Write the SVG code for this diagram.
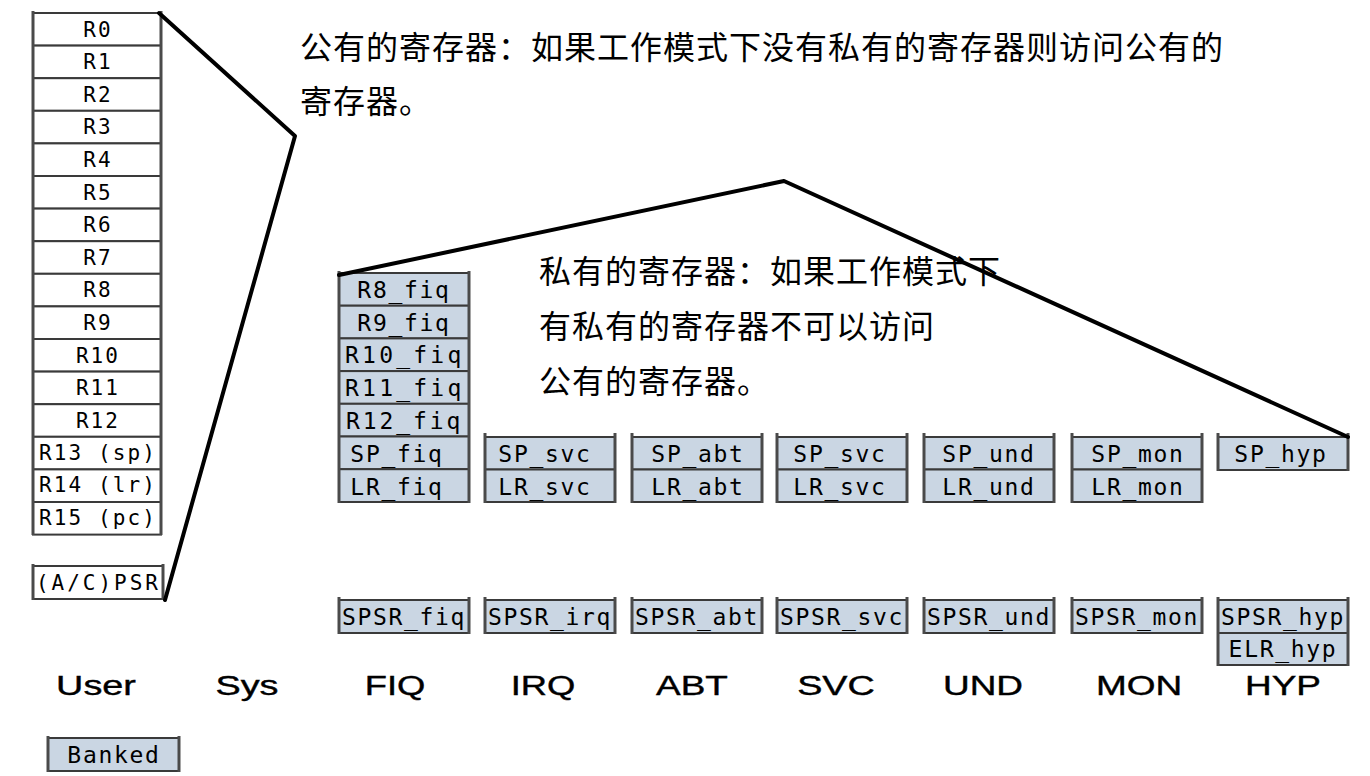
<svg xmlns="http://www.w3.org/2000/svg" width="1370" height="776" viewBox="0 0 1370 776">
<style>
.w{fill:#ffffff;stroke:#3a3a3a;stroke-width:2}
.b{fill:#cad6e3;stroke:#3a3a3a;stroke-width:2}
.sd{stroke:#4a4a4a;stroke-width:3}
.m{font-family:"DejaVu Sans Mono",monospace;font-size:23px;letter-spacing:1.7px;text-anchor:middle;fill:#000}
.l{font-size:21px;letter-spacing:2.1px}
.mode{font-family:"Liberation Sans",Arial,sans-serif;font-size:28px;text-anchor:middle;fill:#000;stroke:#000;stroke-width:0.4}
.cn{font-family:"Liberation Sans","Noto Sans CJK SC",sans-serif;font-size:32px;letter-spacing:1px;fill:#000}
.conn{stroke:#000;stroke-width:4;fill:none;stroke-linejoin:round;stroke-linecap:round}
</style>
<rect width="1370" height="776" fill="#ffffff"/>

<g id="user-regs">
<rect class="w" x="33" y="13" width="128" height="32.6"/><text class="m l" x="98" y="36.5">R0</text>
<rect class="w" x="33" y="45.6" width="128" height="32.6"/><text class="m l" x="98" y="69.1">R1</text>
<rect class="w" x="33" y="78.2" width="128" height="32.6"/><text class="m l" x="98" y="101.7">R2</text>
<rect class="w" x="33" y="110.8" width="128" height="32.6"/><text class="m l" x="98" y="134.3">R3</text>
<rect class="w" x="33" y="143.4" width="128" height="32.6"/><text class="m l" x="98" y="166.9">R4</text>
<rect class="w" x="33" y="176" width="128" height="32.6"/><text class="m l" x="98" y="199.5">R5</text>
<rect class="w" x="33" y="208.6" width="128" height="32.6"/><text class="m l" x="98" y="232.1">R6</text>
<rect class="w" x="33" y="241.2" width="128" height="32.6"/><text class="m l" x="98" y="264.7">R7</text>
<rect class="w" x="33" y="273.8" width="128" height="32.6"/><text class="m l" x="98" y="297.3">R8</text>
<rect class="w" x="33" y="306.4" width="128" height="32.6"/><text class="m l" x="98" y="329.9">R9</text>
<rect class="w" x="33" y="339" width="128" height="32.6"/><text class="m l" x="98" y="362.5">R10</text>
<rect class="w" x="33" y="371.6" width="128" height="32.6"/><text class="m l" x="98" y="395.1">R11</text>
<rect class="w" x="33" y="404.2" width="128" height="32.6"/><text class="m l" x="98" y="427.7">R12</text>
<rect class="w" x="33" y="436.8" width="128" height="32.6"/><text class="m l" x="98" y="459.8">R13 (sp)</text>
<rect class="w" x="33" y="469.4" width="128" height="32.6"/><text class="m l" x="98" y="492.4">R14 (lr)</text>
<rect class="w" x="33" y="502" width="128" height="32.6"/><text class="m l" x="98" y="525">R15 (pc)</text>
<line class="sd" x1="33" y1="11" x2="33" y2="535"/><line class="sd" x1="161" y1="11" x2="161" y2="535"/>
</g>

<g id="psr">
<rect class="w" x="33" y="566" width="130" height="33"/>
<text class="m l" x="98" y="590" textLength="124" lengthAdjust="spacing">(A/C)PSR</text>
<line class="sd" x1="33" y1="564" x2="33" y2="600"/><line class="sd" x1="163" y1="564" x2="163" y2="600"/>
</g>

<g id="fiq-regs">
<rect class="b" x="339" y="273" width="130" height="32.7"/><text class="m" x="404" y="298">R8_fiq</text>
<rect class="b" x="339" y="305.7" width="130" height="32.7"/><text class="m" x="404" y="330.7">R9_fiq</text>
<rect class="b" x="339" y="338.4" width="130" height="32.7"/><text class="m" x="404" y="363.4" textLength="118" lengthAdjust="spacing">R10_fiq</text>
<rect class="b" x="339" y="371.1" width="130" height="32.7"/><text class="m" x="404" y="396.1" textLength="118" lengthAdjust="spacing">R11_fiq</text>
<rect class="b" x="339" y="403.8" width="130" height="32.7"/><text class="m" x="404" y="428.8" textLength="116" lengthAdjust="spacing">R12_fiq</text>
<rect class="b" x="339" y="436.5" width="130" height="32.7"/><text class="m" x="397" y="461.5">SP_fiq</text>
<rect class="b" x="339" y="469.2" width="130" height="32.8"/><text class="m" x="397" y="494.5">LR_fiq</text>
<line class="sd" x1="339" y1="271" x2="339" y2="503"/><line class="sd" x1="469" y1="271" x2="469" y2="503"/>
</g>

<g id="svc-regs">
<rect class="b" x="485" y="437" width="130" height="32.5"/><text class="m" x="545" y="461.5">SP_svc</text>
<rect class="b" x="485" y="469.5" width="130" height="32.5"/><text class="m" x="545" y="494.5">LR_svc</text>
<line class="sd" x1="485" y1="433" x2="485" y2="503"/><line class="sd" x1="615" y1="433" x2="615" y2="503"/>
</g>

<g id="abt-regs">
<rect class="b" x="632" y="437" width="130" height="32.5"/><text class="m" x="698" y="461.5">SP_abt</text>
<rect class="b" x="632" y="469.5" width="130" height="32.5"/><text class="m" x="698" y="494.5">LR_abt</text>
<line class="sd" x1="632" y1="433" x2="632" y2="503"/><line class="sd" x1="762" y1="433" x2="762" y2="503"/>
</g>

<g id="svc2-regs">
<rect class="b" x="777" y="437" width="130" height="32.5"/><text class="m" x="840" y="461.5">SP_svc</text>
<rect class="b" x="777" y="469.5" width="130" height="32.5"/><text class="m" x="840" y="494.5">LR_svc</text>
<line class="sd" x1="777" y1="433" x2="777" y2="503"/><line class="sd" x1="907" y1="433" x2="907" y2="503"/>
</g>

<g id="und-regs">
<rect class="b" x="924" y="437" width="130" height="32.5"/><text class="m" x="989" y="461.5">SP_und</text>
<rect class="b" x="924" y="469.5" width="130" height="32.5"/><text class="m" x="989" y="494.5">LR_und</text>
<line class="sd" x1="924" y1="433" x2="924" y2="503"/><line class="sd" x1="1054" y1="433" x2="1054" y2="503"/>
</g>

<g id="mon-regs">
<rect class="b" x="1072" y="437" width="130" height="32.5"/><text class="m" x="1138" y="461.5">SP_mon</text>
<rect class="b" x="1072" y="469.5" width="130" height="32.5"/><text class="m" x="1138" y="494.5">LR_mon</text>
<line class="sd" x1="1072" y1="433" x2="1072" y2="503"/><line class="sd" x1="1202" y1="433" x2="1202" y2="503"/>
</g>

<g id="hyp-regs">
<rect class="b" x="1218" y="437" width="130" height="33"/><text class="m" x="1281" y="461.5">SP_hyp</text>
<line class="sd" x1="1218" y1="433" x2="1218" y2="471"/><line class="sd" x1="1348" y1="433" x2="1348" y2="471"/>
</g>

<g id="spsr-row">
<rect class="b" x="339" y="600" width="130" height="33"/><text class="m" x="404" y="624.5" textLength="124" lengthAdjust="spacing">SPSR_fiq</text>
<line class="sd" x1="339" y1="597" x2="339" y2="634"/><line class="sd" x1="469" y1="597" x2="469" y2="634"/>
<rect class="b" x="485" y="600" width="130" height="33"/><text class="m" x="550" y="624.5" textLength="124" lengthAdjust="spacing">SPSR_irq</text>
<line class="sd" x1="485" y1="597" x2="485" y2="634"/><line class="sd" x1="615" y1="597" x2="615" y2="634"/>
<rect class="b" x="632" y="600" width="130" height="33"/><text class="m" x="697" y="624.5" textLength="124" lengthAdjust="spacing">SPSR_abt</text>
<line class="sd" x1="632" y1="597" x2="632" y2="634"/><line class="sd" x1="762" y1="597" x2="762" y2="634"/>
<rect class="b" x="777" y="600" width="130" height="33"/><text class="m" x="842" y="624.5" textLength="124" lengthAdjust="spacing">SPSR_svc</text>
<line class="sd" x1="777" y1="597" x2="777" y2="634"/><line class="sd" x1="907" y1="597" x2="907" y2="634"/>
<rect class="b" x="924" y="600" width="130" height="33"/><text class="m" x="989" y="624.5" textLength="124" lengthAdjust="spacing">SPSR_und</text>
<line class="sd" x1="924" y1="597" x2="924" y2="634"/><line class="sd" x1="1054" y1="597" x2="1054" y2="634"/>
<rect class="b" x="1072" y="600" width="130" height="33"/><text class="m" x="1137" y="624.5" textLength="124" lengthAdjust="spacing">SPSR_mon</text>
<line class="sd" x1="1072" y1="597" x2="1072" y2="634"/><line class="sd" x1="1202" y1="597" x2="1202" y2="634"/>
<rect class="b" x="1218" y="600" width="130" height="33"/><text class="m" x="1283" y="624.5" textLength="124" lengthAdjust="spacing">SPSR_hyp</text>
<rect class="b" x="1218" y="633" width="130" height="32"/><text class="m" x="1283" y="656.5">ELR_hyp</text>
<line class="sd" x1="1218" y1="597" x2="1218" y2="666"/><line class="sd" x1="1348" y1="597" x2="1348" y2="666"/>
</g>

<g id="modes">
<text class="mode" transform="translate(96,695) scale(1.35,1)">User</text>
<text class="mode" transform="translate(247,695) scale(1.35,1)">Sys</text>
<text class="mode" transform="translate(395,695) scale(1.3,1)">FIQ</text>
<text class="mode" transform="translate(543,695) scale(1.3,1)">IRQ</text>
<text class="mode" transform="translate(692,695) scale(1.32,1)">ABT</text>
<text class="mode" transform="translate(836,695) scale(1.35,1)">SVC</text>
<text class="mode" transform="translate(983,695) scale(1.32,1)">UND</text>
<text class="mode" transform="translate(1139,695) scale(1.32,1)">MON</text>
<text class="mode" transform="translate(1283,695) scale(1.32,1)">HYP</text>
</g>

<g id="legend">
<rect class="b" x="48" y="738" width="131" height="33"/>
<text class="m" x="114" y="763">Banked</text>
<line class="sd" x1="48" y1="736" x2="48" y2="772"/><line class="sd" x1="179" y1="736" x2="179" y2="772"/>
</g>

<g id="notes">
<text class="cn" x="300" y="59">公有的寄存器：如果工作模式下没有私有的寄存器则访问公有的</text>
<text class="cn" x="300" y="113">寄存器。</text>
<text class="cn" x="539" y="283">私有的寄存器：如果工作模式下</text>
<text class="cn" x="539" y="338">有私有的寄存器不可以访问</text>
<text class="cn" x="539" y="393">公有的寄存器。</text>
</g>

<g id="connectors">
<polyline class="conn" points="159,13 295,136 165,600"/>
<polyline class="conn" points="339,275 784,181 1348,437"/>
</g>
</svg>
